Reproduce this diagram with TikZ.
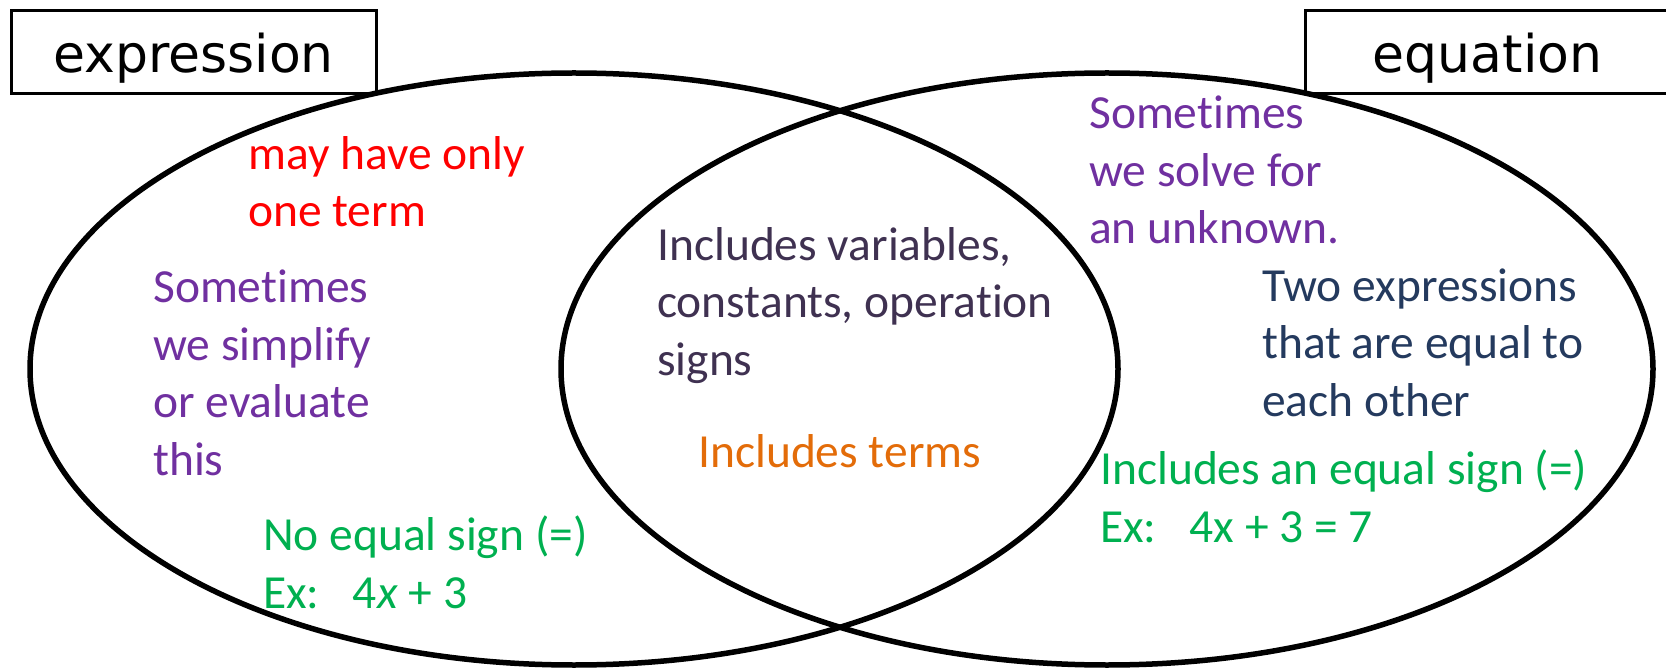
\documentclass[tikz,border=0pt]{standalone}
\usepackage{fontspec}
\setmainfont{Carlito}[Ligatures=TeX, RawFeature={-liga;-clig;-calt;-dlig}]
\newfontfamily\verdanalike{DejaVu Sans}
\usetikzlibrary{shapes.geometric}

\definecolor{notered}{HTML}{FF0000}
\definecolor{notepurple}{HTML}{7030A0}
\definecolor{noteplum}{HTML}{3F3151}
\definecolor{notenavy}{HTML}{243A5E}
\definecolor{noteorange}{HTML}{E36C09}
\definecolor{notegreen}{HTML}{00B050}

\begin{document}
\begin{tikzpicture}[
    x=1pt, y=-1pt,
    setring/.style={ellipse, draw=black, line width=5.5pt, minimum width=1088pt, minimum height=592pt, inner sep=0pt},
    titlebox/.style={rectangle, draw=black, line width=3pt, fill=white, minimum width=365pt, minimum height=83pt, inner sep=0pt, text height=40pt, text depth=0pt, font=\verdanalike\fontsize{52}{62}\selectfont},
    note/.style={anchor=base west, inner sep=0pt, align=left, font=\fontsize{47.5}{57.5}\selectfont}
]
\path[use as bounding box, clip] (0,0) rectangle (1666,668);

% Title boxes
\node[titlebox] (exprtitle) at (193.5,52.5) {expression};
\node[titlebox] (eqtitle) at (1487.5,52.5) {equation};

% The two sets
\node[setring] (exprset) at (574,369) {};
\node[setring, minimum width=1092pt] (eqset) at (1107,369) {};

% Expression only (placed at the baseline of the last line)
\node[note, text=notered] (oneterm) at (248,227) {may have only\\one term};
\node[note, text=notepurple] (simplify) at (153,475) {Sometimes\\we simplify\\or evaluate\\this};
\node[note, text=notegreen] (noequal) at (263,608) {No equal sign (=)\\Ex:\hspace{0.7em}4\textit{x} + 3};

% Both
\node[note, text=noteplum] (shared) at (657,375) {Includes variables,\\constants, operation\\signs};
\node[note, text=noteorange] (terms) at (698,467) {Includes terms};

% Equation only
\node[note, text=notepurple] (solve) at (1089,244) {Sometimes\\we solve for\\an unknown.};
\node[note, text=notenavy] (twoexpr) at (1262,416) {Two expressions\\that are equal to\\each other};
\node[note, text=notegreen] (hasequal) at (1100,542) {Includes an equal sign (=)\\Ex:\hspace{0.7em}4x + 3 = 7};

\end{tikzpicture}
\end{document}
